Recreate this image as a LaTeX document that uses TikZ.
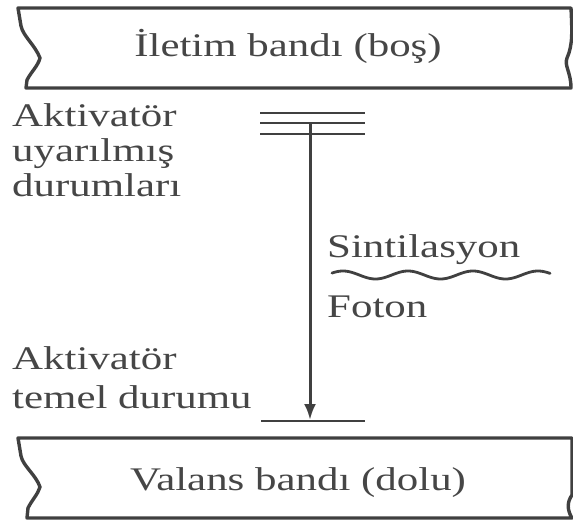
\documentclass[tikz,border=0pt]{standalone}
\usepackage{fontspec}
\setmainfont{Liberation Serif}[FakeStretch=1.3]
\usetikzlibrary{arrows.meta}
\definecolor{ink}{RGB}{70,70,70}
\definecolor{linecol}{RGB}{64,64,64}
\begin{document}
\begin{tikzpicture}[x=1pt,y=-1pt,
  lbl/.style={inner sep=0pt,text=ink,font=\fontsize{33}{35}\selectfont},
  band/.style={draw=linecol,line width=3.4pt,line join=round},
  level/.style={draw=linecol,line width=2.6pt},
  trans/.style={draw=linecol,line width=3pt,-{Latex[length=16pt,width=12pt]}}]
\useasboundingbox (0,0) rectangle (573,521);
% conduction band
\draw[band] (18,8) -- (571,8) .. controls (572,30) and (573,45) .. (567,58)
  .. controls (564,66) and (571,72) .. (571,88) -- (26,88) -- (27,80)
  .. controls (31,72) and (38,66) .. (40,58) .. controls (35,45) and (23,36) .. (21,26) -- cycle;
\node[lbl,anchor=base] (cb) at (288,57) {İletim bandı (boş)};
% valence band
\draw[band] (18,438) -- (572,438) -- (572,495) .. controls (567,502) and (567,510) .. (572,518)
  -- (27,518) -- (28,508) .. controls (32,500) and (38,494) .. (40,487)
  .. controls (36,475) and (23,466) .. (21,456) -- cycle;
\node[lbl,anchor=base] (vb) at (298,490) {Valans bandı (dolu)};
% activator excited levels
\coordinate (e1l) at (260,113); \coordinate (e1r) at (365,113);
\coordinate (e2l) at (260,123); \coordinate (e2r) at (365,123);
\coordinate (e3l) at (260,134); \coordinate (e3r) at (365,134);
\draw[level] (e1l) -- (e1r);
\draw[level] (e2l) -- (e2r);
\draw[level] (e3l) -- (e3r);
\coordinate (top) at (310,123);
% ground level
\coordinate (gl) at (261,421); \coordinate (gr) at (365,421);
\draw[level] (gl) -- (gr);
\coordinate (bot) at (310,420);
\draw[trans] (top) -- (bot);
% labels left
\node[lbl,anchor=base west] (a1) at (12,127) {Aktivatör};
\node[lbl,anchor=base west] (a2) at (12,162) {uyarılmış};
\node[lbl,anchor=base west] (a3) at (12,197) {durumları};
\node[lbl,anchor=base west] (b1) at (12,369) {Aktivatör};
\node[lbl,anchor=base west] (b2) at (12,408) {temel durumu};
% photon
\node[lbl,anchor=base west] (s) at (327,258) {Sintilasyon};
\node[lbl,anchor=base west] (f) at (327,318) {Foton};
\coordinate (w0) at (332,275);
\draw[draw=linecol,line width=2.8pt,line cap=round]
  plot[domain=0:218,samples=120,smooth] ({332+\x},{275-4*cos((\x-11)*5.538)});
\end{tikzpicture}
\end{document}
